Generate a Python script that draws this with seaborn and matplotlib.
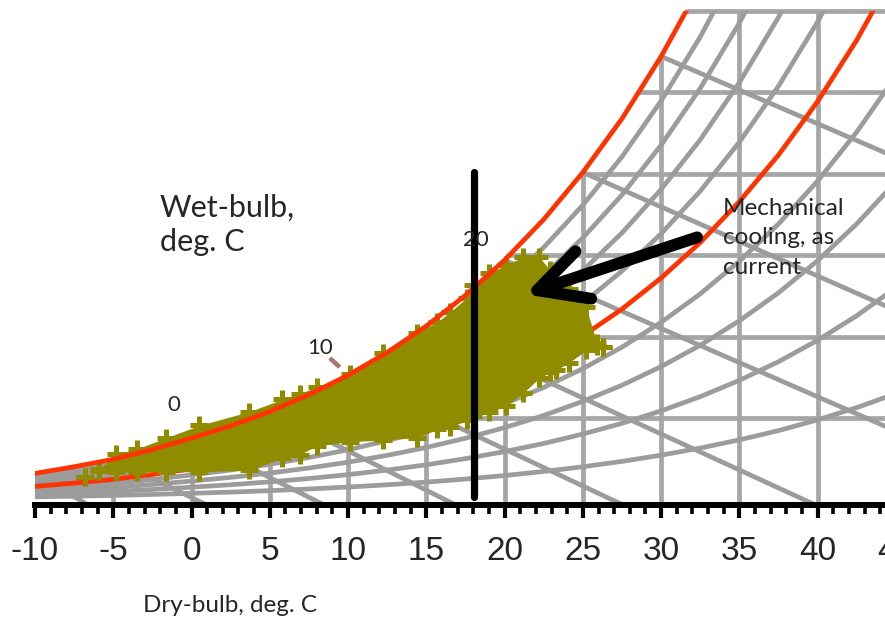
import matplotlib
matplotlib.use("Agg")
import matplotlib.pyplot as plt
from matplotlib.ticker import MultipleLocator
from matplotlib import font_manager
import seaborn as sns

# ---------------- data ----------------
# dry-bulb temperature (deg C) and saturation humidity ratio (g/kg)
dry_bulb = [-10, -7.5, -5, -2.5, 0, 2.5, 5, 7.5, 10, 12.5, 15, 17.5, 20,
            22.5, 25, 27.5, 30, 32.5, 35, 37.5, 40, 42.5, 45]
w_saturation = [1.60, 2.01, 2.47, 3.07, 3.77, 4.52, 5.40, 6.44, 7.63, 9.03,
                10.65, 12.54, 14.70, 17.20, 20.09, 23.39, 27.21, 31.57,
                36.59, 42.32, 48.90, 56.44, 65.06]
# percentage-saturation curves drawn below the saturation line
pct_levels = [90, 80, 70, 60, 50, 40, 30, 20, 10]

# wet-bulb lines: start on saturation curve, end at axis / right edge
wb_temp = [-10, -5, 0, 5, 10, 15, 20, 25, 30]
wb_start_w = [1.60, 2.47, 3.77, 5.40, 7.63, 10.65, 14.70, 20.09, 27.21]
wb_end_T = [-6.5, 1.1, 8.6, 17.0, 27.7, 40.0, 44.3, 44.3, 44.3]
wb_end_w = [-0.4, -0.4, -0.4, -0.4, -0.4, -0.4, 4.5, 11.9, 21.3]

# constant humidity-ratio grid lines (g/kg) and their start on saturation
w_grid = [5, 10, 15, 20, 25, 30]
w_grid_start_T = [3.9, 14.1, 20.2, 24.9, 28.5, 31.6]

# constant dry-bulb grid lines and their top on saturation
t_grid = [-5, 0, 5, 10, 15, 20, 25, 30, 35, 40]
t_grid_top_w = [2.47, 3.77, 5.40, 7.63, 10.65, 14.70, 20.09, 27.21, 30, 30]

# cloud of hourly weather points: outline of marker centres
cloud_T = [-6.8, -5.9, -4.8, -3.5, -1.6, 0.5, 3.7, 5.8, 6.9, 8.0, 10.1, 12.2,
           14.4, 15.7, 16.5, 17.6, 18.0, 19.0, 20.1, 21.2, 22.2, 22.9, 23.3,
           24.1, 25.2, 25.9, 26.3]
cloud_top_w = [1.4, 1.85, 2.8, 3.1, 3.8, 4.55, 5.4, 6.15, 6.5, 6.9, 7.7, 9.0,
               10.2, 10.9, 11.5, 12.4, 13.2, 13.9, 14.4, 14.9, 14.9, 14.1,
               13.5, 12.9, 11.8, 9.6, 9.35]
cloud_bottom_w = [1.4, 1.75, 1.7, 1.7, 1.7, 1.7, 1.8, 2.55, 2.75, 3.3, 3.55,
                  3.65, 3.8, 4.3, 4.45, 4.85, 5.15, 5.35, 5.75, 6.55, 7.45,
                  7.8, 7.95, 8.4, 9.15, 9.45, 9.35]

# vertical black limit line
limit_T = [18.05, 18.05]
limit_w = [0.15, 20.1]

# leader for the "10" wet-bulb label
leader_T = [8.83, 9.47]
leader_w = [8.68, 8.13]

x_ticks = [-10, -5, 0, 5, 10, 15, 20, 25, 30, 35, 40]
x_ticklabels = ["-10", "-5", "0", "5", "10", "15", "20", "25", "30", "35", "40"]

# ---------------- styling ----------------
sns.set_style("white")
plt.rcParams["font.family"] = ["Lato", "DejaVu Sans"]
plt.rcParams["axes.unicode_minus"] = False

installed = {f.name for f in font_manager.fontManager.ttflist}
TICK_FONT = ["Liberation Sans Narrow", "Liberation Sans"]
TICK_FONT = [f for f in TICK_FONT if f in installed] + ["DejaVu Sans"]

GREY_GRID = "#A6A6A6"
GREY_CURVE = "#9C9C9C"
RED = "#FF3300"
OLIVE = "#908C00"

fig = plt.figure(figsize=(8.85, 6.28), dpi=100)
W, H = 885, 628
ax = fig.add_axes([35 / W, 1 - 505 / H, 1 - 35 / W, (505 - 11) / H])
ax.set_xlim(-10, 44.3)
ax.set_ylim(-0.34, 30)

LW = 3.4

# vertical dry-bulb grid lines
for t, top in zip(t_grid, t_grid_top_w):
    sns.lineplot(x=[t, t], y=[-0.4, top], ax=ax, color=GREY_GRID, lw=LW,
                 estimator=None, sort=False, zorder=1)

# horizontal humidity-ratio grid lines
for w, t0 in zip(w_grid, w_grid_start_T):
    sns.lineplot(x=[t0, 44.3], y=[w, w], ax=ax, color=GREY_GRID, lw=LW,
                 estimator=None, sort=False, zorder=1, clip_on=False)

# wet-bulb lines
for t0, w0, t1, w1 in zip(wb_temp, wb_start_w, wb_end_T, wb_end_w):
    sns.lineplot(x=[t0, t1], y=[w0, w1], ax=ax, color=GREY_CURVE, lw=LW,
                 estimator=None, sort=False, zorder=1)

# percentage saturation curves
for p in pct_levels:
    ys = [p / 100 * w for w in w_saturation]
    if p == 50:
        sns.lineplot(x=dry_bulb, y=ys, ax=ax, color=RED, lw=LW,
                     estimator=None, sort=False, zorder=2)
    else:
        sns.lineplot(x=dry_bulb, y=ys, ax=ax, color=GREY_CURVE, lw=LW,
                     estimator=None, sort=False, zorder=1)

# cloud of weather data
ax.fill_between(cloud_T, cloud_bottom_w, cloud_top_w, color=OLIVE, lw=0,
                zorder=3)
sns.scatterplot(x=cloud_T + cloud_T, y=cloud_top_w + cloud_bottom_w, ax=ax,
                marker="+", s=150, color=OLIVE, linewidth=3.6, zorder=3,
                legend=False)

# saturation curve on top
sns.lineplot(x=dry_bulb, y=w_saturation, ax=ax, color=RED, lw=LW,
             estimator=None, sort=False, zorder=4)

# black vertical line
sns.lineplot(x=limit_T, y=limit_w, ax=ax, color="black", lw=5.2,
             estimator=None, sort=False, zorder=5)

# leader line for "10"
ax.plot(leader_T, leader_w, color="#A87474", lw=3.2, solid_capstyle="butt",
        zorder=5)

# arrow
ax.annotate("", xy=(21.3, 12.6), xytext=(32.3, 16.1),
            arrowprops=dict(arrowstyle="->,head_length=1.75,head_width=0.9",
                            lw=8.5, color="black", mutation_scale=20,
                            shrinkA=0, shrinkB=0, capstyle="round",
                            joinstyle="round"),
            zorder=6)

# ---------------- axes styling ----------------
for s in ["left", "right", "top"]:
    ax.spines[s].set_visible(False)
ax.spines["bottom"].set_linewidth(4.3)
ax.spines["bottom"].set_color("black")
ax.spines["bottom"].set_zorder(7)
ax.set_yticks([])
ax.set_xticks(x_ticks)
ax.set_xticklabels(x_ticklabels, fontfamily=TICK_FONT, fontsize=24)
ax.xaxis.set_minor_locator(MultipleLocator(1))
ax.tick_params(axis="x", which="major", direction="out", length=9, width=3.0,
               color="black", pad=13, bottom=True)
ax.tick_params(axis="x", which="minor", direction="out", length=6.5,
               width=2.6, color="black", bottom=True)
ax.text(45, -0.095, "45", transform=ax.get_xaxis_transform(), ha="center",
        va="center", fontsize=24, fontfamily=TICK_FONT, clip_on=False)
ax.set_xlabel("")
ax.set_ylabel("")
ax.grid(False)

# ---------------- texts ----------------
fig.text(143 / W, 1 - 605 / H, "Dry-bulb, deg. C", ha="left", va="center",
         fontsize=17.5)
fig.text(160 / W, 1 - 194 / H, "Wet-bulb,\ndeg. C", ha="left", va="top",
         fontsize=22, linespacing=1.25)
fig.text(723 / W, 1 - 198 / H, "Mechanical\ncooling, as\ncurrent", ha="left",
         va="top", fontsize=17.5, linespacing=1.5)
fig.text(174 / W, 1 - 405 / H, "0", ha="center", va="center", fontsize=16)
fig.text(320 / W, 1 - 348 / H, "10", ha="center", va="center", fontsize=16)
fig.text(476 / W, 1 - 240 / H, "20", ha="center", va="center", fontsize=16)

fig.savefig("out.png", dpi=100)
